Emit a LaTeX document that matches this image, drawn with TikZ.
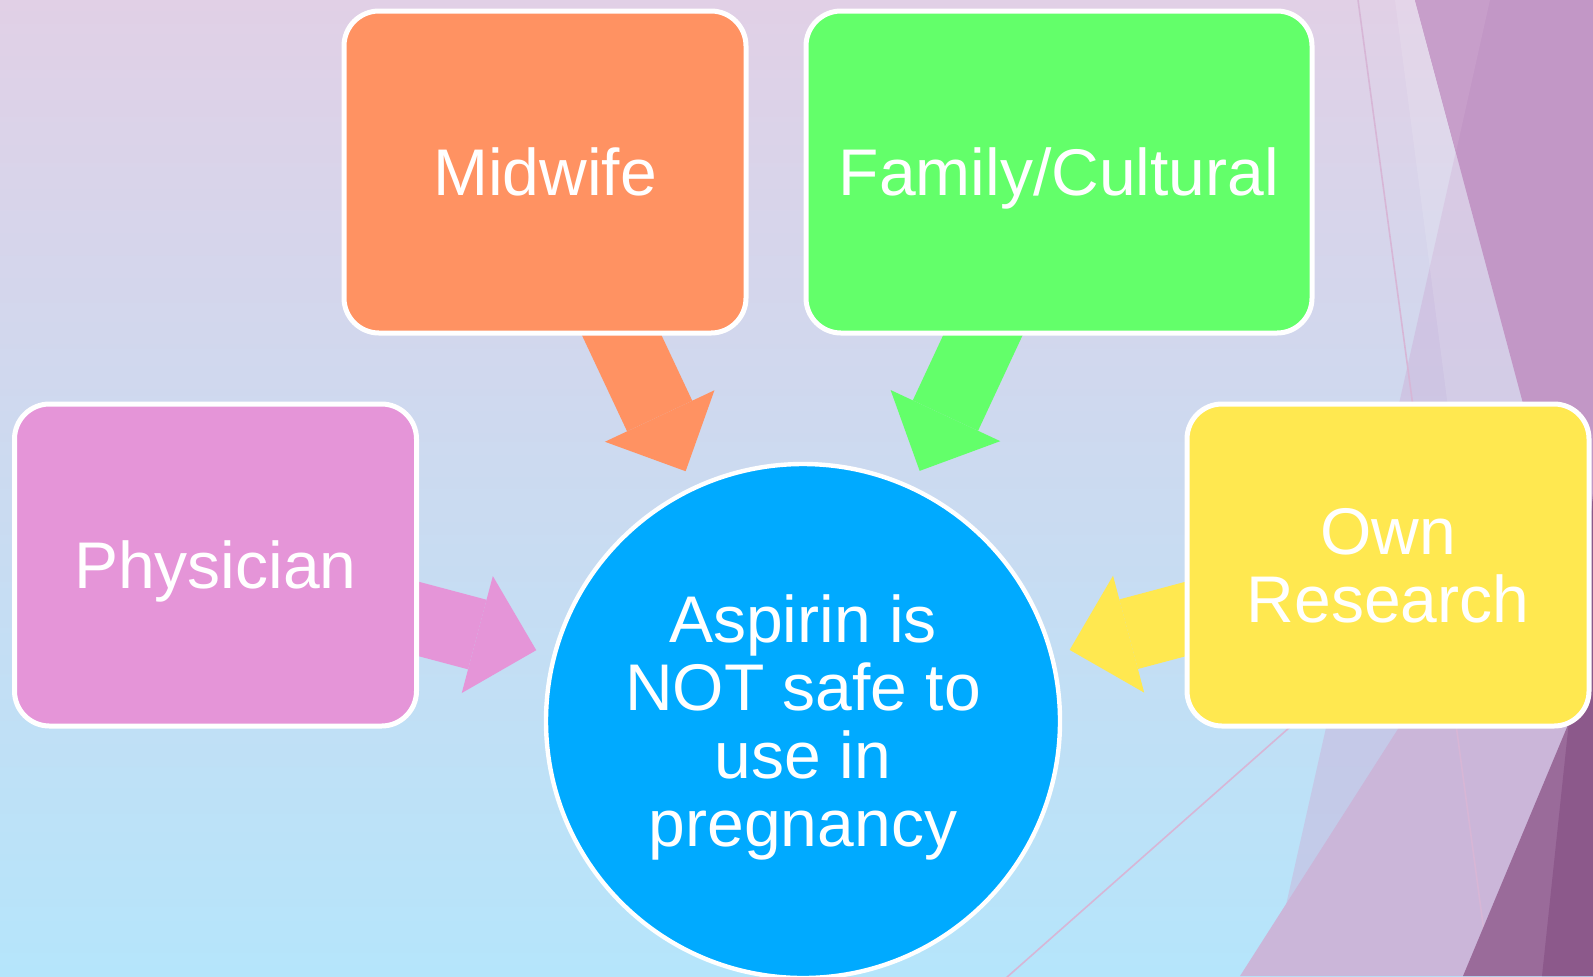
\documentclass[tikz,border=0pt]{standalone}
\usepackage{fontspec}
\setmainfont{Liberation Sans}
\usepackage{tikz}
\usepackage{xcolor}
\usetikzlibrary{arrows.meta}

\definecolor{bgtop}{HTML}{E1D0E6}
\definecolor{bgbot}{HTML}{B5E5FB}
\definecolor{midwifecol}{HTML}{FF9262}
\definecolor{familycol}{HTML}{63FF6A}
\definecolor{physiciancol}{HTML}{E595D8}
\definecolor{researchcol}{HTML}{FFE850}
\definecolor{aspirincol}{HTML}{00AAFF}
\definecolor{facetmid}{HTML}{C297C6}
\definecolor{facetlight}{HTML}{C79ECA}
\definecolor{facetlav}{HTML}{CBB6D9}
\definecolor{facetdim}{HTML}{9A6B9A}
\definecolor{facetdark}{HTML}{8C598B}
\definecolor{facettint}{HTML}{CDAFD7}
\definecolor{facetline}{HTML}{D7B6D6}

\pgfdeclarelayer{back}
\pgfdeclarelayer{arrowlayer}
\pgfsetlayers{back,arrowlayer,main}

\tikzset{
  box/.style={draw=white,line width=2.5pt,rounded corners=17.5pt,
    minimum width=201pt,minimum height=161pt,inner sep=0pt,
    text=white,font=\fontsize{33pt}{34pt}\selectfont,
    text height=23.6pt,text depth=0pt},
  hub/.style={circle,draw=white,line width=2.2pt,fill=aspirincol,
    minimum size=257pt,inner sep=0pt,text=white,align=center,
    font=\fontsize{33pt}{34pt}\selectfont,text height=125.6pt,text depth=0pt},
  feed/.style={draw=#1,line width=36pt,shorten <=60pt,shorten >=138pt,
    -{Triangle[width=60.5pt,length=30.5pt,line width=0pt]}}
}

\begin{document}
\begin{tikzpicture}[x=0.5pt,y=-0.5pt]
\useasboundingbox (0,0) rectangle (1593,976);

\begin{pgfonlayer}{back}
\shade[top color=bgtop,bottom color=bgbot] (0,0) rectangle (1593,976);
\fill[facettint,opacity=0.45] (1490,0) -- (1593,0) -- (1593,976) -- (1270,976) -- cycle;
\fill[white,opacity=0.12] (1395,0) -- (1593,0) -- (1593,976) -- (1522,976) -- cycle;
\fill[facetlav] (1240,976) -- (1593,424) -- (1593,976) -- cycle;
\fill[facetmid] (1415,0) -- (1593,0) -- (1593,665) -- cycle;
\fill[facetlight] (1415,0) -- (1490,0) -- (1456,152) -- cycle;
\draw[facetline,line width=0.8pt] (1358,0) -- (1490,976);
\draw[facetline,line width=0.8pt] (1290,727) -- (1006,978);
\fill[facetdim] (1593,665) -- (1463,976) -- (1593,976) -- cycle;
\fill[facetdark] (1593,494) -- (1542,976) -- (1593,976) -- cycle;
\end{pgfonlayer}

\node[box,fill=midwifecol] (midwife) at (545,172) {Midwife};
\node[box,fill=familycol,minimum width=253pt] (family) at (1059,172) {Family/Cultural};
\node[box,fill=physiciancol] (physician) at (215.5,565) {Physician};
\node[box,fill=researchcol,align=center,text height=57.6pt] (research) at (1388,565) {Own\\Research};
\node[hub] (aspirin) at (803,721) {Aspirin is\\NOT safe to\\use in\\pregnancy};

\begin{pgfonlayer}{arrowlayer}
\draw[feed=midwifecol] (midwife.center) -- (aspirin.center);
\draw[feed=familycol] (family.center) -- (aspirin.center);
\draw[feed=physiciancol] (physician.center) -- (aspirin.center);
\draw[feed=researchcol] (research.center) -- (aspirin.center);
\end{pgfonlayer}
\end{tikzpicture}
\end{document}
